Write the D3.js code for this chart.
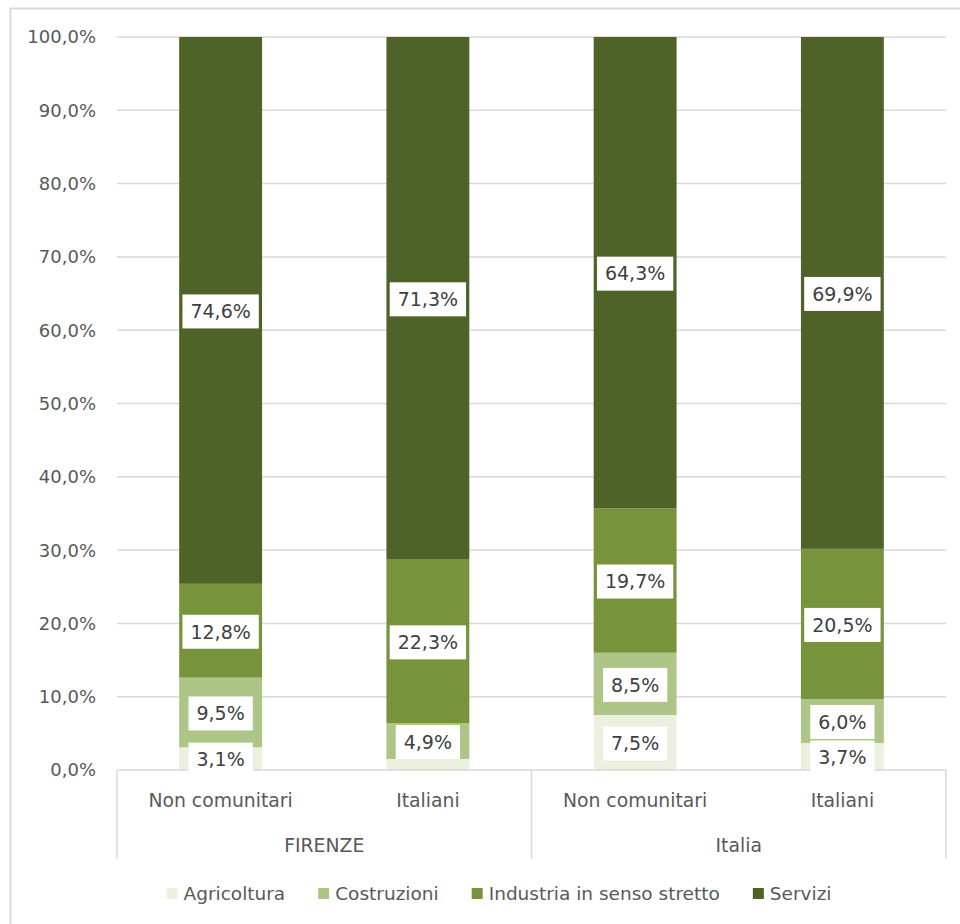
<!DOCTYPE html>
<html>
<head>
<meta charset="utf-8">
<script src="https://cdn.jsdelivr.net/npm/d3@7"></script>
<style>
  html, body { margin: 0; padding: 0; background: #fff; }
  svg { display: block; font-family: "DejaVu Sans", sans-serif; }
</style>
</head>
<body>
<svg id="chart" width="960" height="924"></svg>
<script>
// ---- data ----
const groups = ["FIRENZE", "FIRENZE", "Italia", "Italia"];
const categories = ["Non comunitari", "Italiani", "Non comunitari", "Italiani"];
const seriesNames = ["Agricoltura", "Costruzioni", "Industria in senso stretto", "Servizi"];
const agricoltura = [3.1, 1.5, 7.5, 3.7];
const costruzioni = [9.5, 4.9, 8.5, 6.0];
const industria = [12.8, 22.3, 19.7, 20.5];
const servizi = [74.6, 71.3, 64.3, 69.9];
const showLabel = [[true, false, true, true], [true, true, true, true], [true, true, true, true], [true, true, true, true]];
const yTicks = [0, 10, 20, 30, 40, 50, 60, 70, 80, 90, 100];
const colors = ["#EBF1DE", "#ADC586", "#77933C", "#4F6228"];

// ---- build table ----
const seriesValues = [agricoltura, costruzioni, industria, servizi];
const rows = categories.map((c, i) => {
  const r = { key: i, cat: c, group: groups[i] };
  seriesNames.forEach((s, j) => r[s] = seriesValues[j][i]);
  return r;
});
// 100% stacked: normalise each column
const stacked = d3.stack().keys(seriesNames).offset(d3.stackOffsetExpand)(rows);

const svg = d3.select("#chart");
const fmt = v => d3.format(".1f")(v).replace(".", ",") + "%";

// frame
svg.append("rect").attr("x", 10.5).attr("y", 8.5).attr("width", 1000).attr("height", 1000)
  .attr("fill", "none").attr("stroke", "#D9D9D9").attr("stroke-width", 2);

const x0 = 117, x1 = 946, yBottom = 770, yTop = 37;
const x = d3.scaleBand().domain(rows.map(r => r.key)).range([x0, x1]).paddingInner(0.6).paddingOuter(0.3);
const y = d3.scaleLinear().domain([0, 100]).range([yBottom, yTop]);
const yf = v => y(v * 100);

// gridlines
svg.append("g").selectAll("line").data(yTicks.filter(t => t > 0)).join("line")
  .attr("x1", x0).attr("x2", x1).attr("y1", d => y(d)).attr("y2", d => y(d))
  .attr("stroke", "#D9D9D9").attr("stroke-width", 1.5);

// y tick labels
svg.append("g").selectAll("text").data(yTicks).join("text")
  .attr("x", 96).attr("y", d => y(d)).attr("dy", "0.36em")
  .attr("text-anchor", "end").attr("fill", "#595959").attr("font-size", 18)
  .text(d => d3.format(".1f")(d).replace(".", ",") + "%");

// bars
const layers = svg.append("g").selectAll("g").data(stacked).join("g")
  .attr("fill", (d, i) => colors[i]);
layers.selectAll("rect").data(d => d).join("rect")
  .attr("x", d => x(d.data.key)).attr("width", x.bandwidth())
  .attr("y", d => yf(d[1])).attr("height", d => yf(d[0]) - yf(d[1]));

// axis lines
const axis = svg.append("g").attr("stroke", "#D9D9D9").attr("stroke-width", 1.5);
axis.append("line").attr("x1", x0).attr("x2", x1).attr("y1", yBottom).attr("y2", yBottom);
const groupNames = Array.from(new Set(groups));
const sepX = [x0];
groupNames.forEach(g => {
  const idx = rows.filter(r => r.group === g).map(r => r.key);
  const last = idx[idx.length - 1];
  sepX.push(x(last) + x.bandwidth() / 2 + x.step() / 2);
});
axis.selectAll("line.sep").data(sepX).join("line").attr("class", "sep")
  .attr("x1", d => d).attr("x2", d => d).attr("y1", yBottom).attr("y2", 859);

// category labels
svg.append("g").selectAll("text").data(rows).join("text")
  .attr("x", d => x(d.key) + x.bandwidth() / 2).attr("y", 807)
  .attr("text-anchor", "middle").attr("fill", "#595959").attr("font-size", 18.8)
  .text(d => d.cat);

// group labels
svg.append("g").selectAll("text").data(groupNames).join("text")
  .attr("x", (d, i) => (sepX[i] + sepX[i + 1]) / 2).attr("y", 852)
  .attr("text-anchor", "middle").attr("fill", "#595959").attr("font-size", 18.8)
  .text(d => d);

// data labels
const lab = svg.append("g");
stacked.forEach((layer, si) => {
  layer.forEach((d, ci) => {
    if (!showLabel[si][ci]) return;
    const cx = x(d.data.key) + x.bandwidth() / 2;
    const cy = yf((d[0] + d[1]) / 2) + 1;
    const g = lab.append("g");
    const t = g.append("text").attr("x", cx).attr("y", cy).attr("dy", "0.36em")
      .attr("text-anchor", "middle").attr("fill", "#404040").attr("font-size", 19)
      .text(fmt(d.data[layer.key]));
    const w = t.node().getComputedTextLength() + 16;
    g.insert("rect", "text").attr("x", cx - w / 2).attr("y", cy - 17).attr("width", w).attr("height", 34)
      .attr("fill", "#fff");
  });
});

// legend
const leg = svg.append("g");
let lx = 0;
seriesNames.forEach((s, i) => {
  const g = leg.append("g").attr("transform", `translate(${lx},0)`);
  g.append("rect").attr("x", 0).attr("y", 888).attr("width", 11).attr("height", 11).attr("fill", colors[i]);
  const t = g.append("text").attr("x", 17).attr("y", 900).attr("fill", "#595959").attr("font-size", 18.5).text(s);
  lx += 17 + t.node().getComputedTextLength() + 33;
});
const totalW = lx - 33;
leg.attr("transform", `translate(${499 - totalW / 2},0)`);
</script>
</body>
</html>
